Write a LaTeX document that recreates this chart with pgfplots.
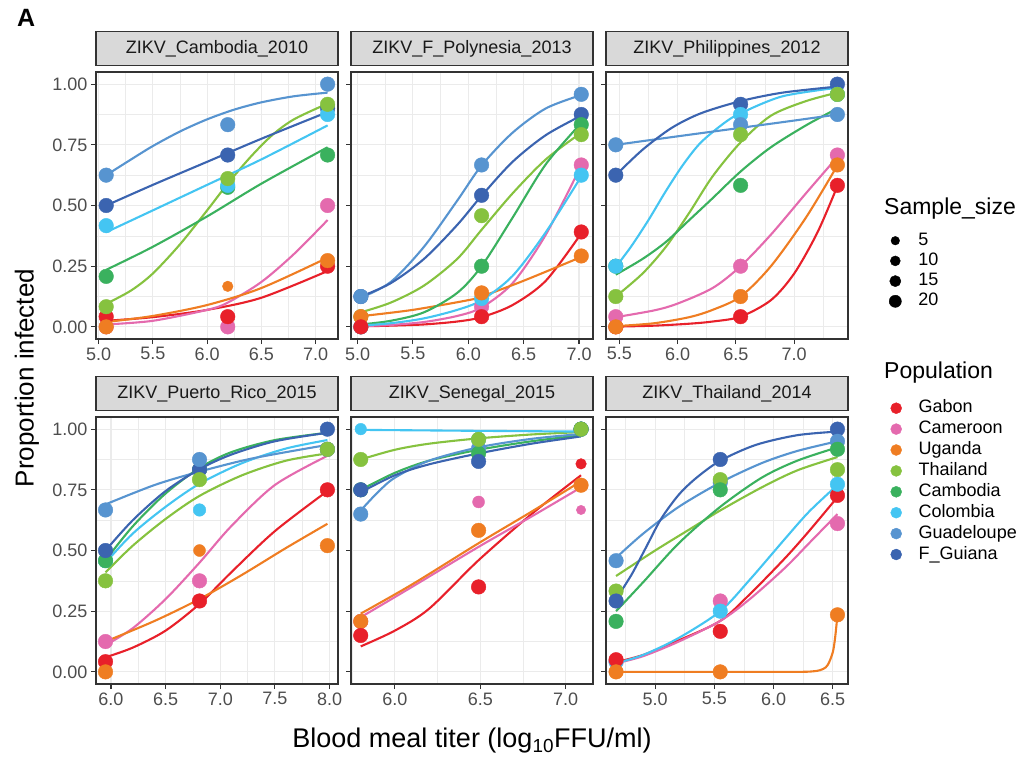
\documentclass[border=0pt]{standalone}
\usepackage{fontspec}
\setmainfont{Liberation Sans}
\usepackage{pgfplots}
\pgfplotsset{compat=1.18}
\definecolor{cGab}{HTML}{E8202A}
\definecolor{cCam}{HTML}{E46AAE}
\definecolor{cUga}{HTML}{EF7D22}
\definecolor{cTha}{HTML}{86C23F}
\definecolor{cCbd}{HTML}{3AB15E}
\definecolor{cCol}{HTML}{44C5F2}
\definecolor{cGua}{HTML}{5794D0}
\definecolor{cFG}{HTML}{3B64B0}
\definecolor{gridc}{HTML}{EBEBEB}
\definecolor{border}{HTML}{333333}
\definecolor{stripc}{HTML}{D9D9D9}
\definecolor{tickc}{HTML}{4D4D4D}
\pgfplotsset{
  crv/.style={no markers, smooth, line width=2.1pt, color=#1},
  ptsz/.style 2 args={only marks, mark=*, mark size=#2, color=#1, mark options={draw=#1, fill=#1, line width=0.4pt}},
  panel/.style={
    scale only axis, width=242pt, height=267pt, anchor=north west,
    ymin=-0.05, ymax=1.05,
    ytick={0,0.25,0.5,0.75,1}, minor ytick={0.125,0.375,0.625,0.875},
    yticklabels={},
    grid=both,
    major grid style={draw=gridc, line width=1.1pt},
    minor grid style={draw=gridc, line width=0.55pt},
    axis line style={draw=border, line width=1.1pt},
    tick style={draw=border, line width=1.1pt},
    major tick length=5pt, minor tick length=0pt,
    tick align=outside, xtick pos=left, ytick pos=left,
    tick label style={font=\fontsize{18}{18}\selectfont, text=tickc},
    title style={at={(0.5,1)}, anchor=south, yshift=0pt, draw=border, line width=1.1pt,
      fill=stripc, minimum width=242pt, minimum height=34pt, inner sep=0pt,
      font=\fontsize{18}{18}\selectfont, text=black!90},
  },
  legendbox/.style={anchor=north west, hide axis, scale only axis, width=5pt, height=5pt,
    xmin=0, xmax=1, ymin=0, ymax=1,
    legend style={at={(0,1)}, anchor=north west, draw=none, fill=none, inner sep=0pt,
      row sep=1.2pt, font=\fontsize{18}{18}\selectfont,
      nodes={inner sep=1pt, text height=13pt, text depth=4pt},
      /tikz/every odd column/.append style={column sep=16pt}},
    legend cell align=left},
}
\newcommand{\crv}[2]{\addplot[crv=#1] coordinates {#2};}
\newcommand{\pts}[3][7.3]{\addplot[ptsz={#2}{#1pt}] coordinates {#3};}
\begin{document}
\begin{tikzpicture}
\useasboundingbox (0,0) rectangle (1021pt,-763pt);
% ---------------- Panel 1
\begin{axis}[panel, at={(96pt,-72pt)}, xmin=4.976, xmax=7.206,
  xtick={5,5.5,6,6.5,7}, xticklabels={5.0,5.5,6.0,6.5,7.0}, minor xtick={5.25,5.75,6.25,6.75},
  yticklabels={0.00,0.25,0.50,0.75,1.00}, title={ZIKV\_Cambodia\_2010}]
\crv{cGab}{(5.07,0.025)(5.5,0.04)(6.0,0.07)(6.5,0.12)(7.11,0.23)}
\crv{cCam}{(5.07,0.01)(5.5,0.025)(6.0,0.07)(6.19,0.1)(6.5,0.185)(6.8,0.3)(7.11,0.44)}
\crv{cUga}{(5.07,0.02)(5.5,0.045)(6.0,0.09)(6.5,0.16)(7.11,0.285)}
\crv{cTha}{(5.07,0.095)(5.3,0.15)(5.5,0.22)(5.75,0.34)(6.0,0.48)(6.19,0.59)(6.4,0.7)(6.6,0.79)(6.8,0.855)(7.11,0.92)}
\crv{cCbd}{(5.07,0.235)(5.5,0.33)(6.0,0.455)(6.5,0.59)(7.11,0.74)}
\crv{cCol}{(5.07,0.39)(5.5,0.48)(6.0,0.585)(6.5,0.69)(7.11,0.83)}
\crv{cGua}{(5.07,0.625)(5.3,0.69)(5.5,0.745)(5.75,0.805)(6.0,0.855)(6.25,0.895)(6.5,0.925)(6.8,0.95)(7.11,0.965)}
\crv{cFG}{(5.07,0.5)(5.5,0.585)(6.0,0.68)(6.5,0.775)(7.11,0.885)}
\pts{cFG}{(7.11,0.9)}
\pts{cCam}{(5.07,0)(6.19,0)(7.11,0.5)}
\pts{cGab}{(5.07,0.042)(6.19,0.042)(7.11,0.25)}
\pts{cUga}{(5.07,0)(7.11,0.273)}
\pts[5.3]{cUga}{(6.19,0.167)}
\pts{cCbd}{(5.07,0.208)(6.19,0.575)(7.11,0.708)}
\pts{cCol}{(5.07,0.417)(6.19,0.583)(7.11,0.875)}
\pts{cTha}{(5.07,0.083)(6.19,0.611)(7.11,0.917)}
\pts{cGua}{(5.07,0.625)(6.19,0.833)(7.11,1)}
\pts{cFG}{(5.07,0.5)(6.19,0.708)}
\end{axis}
% ---------------- Panel 2
\begin{axis}[panel, at={(351pt,-72pt)}, xmin=4.941, xmax=7.126,
  xtick={5,5.5,6,6.5,7}, xticklabels={5.0,5.5,6.0,6.5,7.0}, minor xtick={5.25,5.75,6.25,6.75},
  title={ZIKV\_F\_Polynesia\_2013}]
\crv{cGab}{(5.03,0.002)(5.3,0.005)(5.6,0.01)(5.9,0.022)(6.12,0.04)(6.4,0.09)(6.7,0.19)(7.02,0.385)}
\crv{cCam}{(5.03,0.003)(5.3,0.008)(5.6,0.02)(5.9,0.045)(6.12,0.08)(6.4,0.18)(6.7,0.38)(7.02,0.665)}
\crv{cUga}{(5.03,0.044)(5.5,0.07)(6.0,0.11)(6.12,0.125)(6.5,0.19)(7.02,0.288)}
\crv{cTha}{(5.03,0.06)(5.3,0.1)(5.6,0.17)(5.9,0.28)(6.12,0.4)(6.4,0.55)(6.7,0.69)(7.02,0.8)}
\crv{cCbd}{(5.03,0.01)(5.3,0.025)(5.6,0.06)(5.9,0.14)(6.12,0.25)(6.4,0.45)(6.7,0.67)(7.02,0.84)}
\crv{cCol}{(5.03,0.005)(5.3,0.015)(5.6,0.035)(5.9,0.07)(6.12,0.11)(6.4,0.21)(6.7,0.39)(7.02,0.62)}
\crv{cGua}{(5.03,0.12)(5.3,0.185)(5.6,0.33)(5.9,0.52)(6.12,0.665)(6.4,0.8)(6.7,0.9)(7.02,0.955)}
\crv{cFG}{(5.03,0.125)(5.3,0.18)(5.6,0.28)(5.9,0.42)(6.12,0.54)(6.4,0.68)(6.7,0.79)(7.02,0.87)}
\pts{cFG}{(5.03,0.125)(6.12,0.542)(7.02,0.875)}
\pts{cCbd}{(5.03,0)(6.12,0.25)(7.02,0.833)}
\pts{cTha}{(5.03,0.042)(6.12,0.458)(7.02,0.792)}
\pts{cCam}{(5.03,0)(6.12,0.083)(7.02,0.667)}
\pts{cCol}{(5.03,0)(6.12,0.117)(7.02,0.625)}
\pts{cGua}{(5.03,0.125)(6.12,0.667)(7.02,0.958)}
\pts{cUga}{(5.03,0.042)(6.12,0.14)(7.02,0.292)}
\pts{cGab}{(5.03,0)(6.12,0.042)(7.02,0.391)}
\end{axis}
% ---------------- Panel 3
\begin{axis}[panel, at={(606pt,-72pt)}, xmin=5.386, xmax=7.461,
  xtick={5.5,6,6.5,7}, xticklabels={5.5,6.0,6.5,7.0}, minor xtick={5.75,6.25,6.75,7.25},
  title={ZIKV\_Philippines\_2012}]
\crv{cGab}{(5.47,0.001)(5.8,0.005)(6.1,0.013)(6.3,0.022)(6.54,0.042)(6.8,0.11)(7.0,0.22)(7.2,0.39)(7.37,0.58)}
\crv{cCam}{(5.47,0.04)(5.8,0.068)(6.0,0.096)(6.3,0.16)(6.54,0.25)(6.8,0.38)(7.1,0.55)(7.37,0.7)}
\crv{cUga}{(5.47,0.003)(5.8,0.015)(6.1,0.04)(6.3,0.07)(6.54,0.125)(6.8,0.25)(7.1,0.45)(7.37,0.665)}
\crv{cTha}{(5.47,0.125)(5.7,0.22)(5.9,0.33)(6.1,0.47)(6.3,0.62)(6.54,0.76)(6.8,0.87)(7.1,0.93)(7.37,0.965)}
\crv{cCbd}{(5.47,0.215)(5.7,0.28)(5.9,0.35)(6.1,0.44)(6.3,0.53)(6.54,0.64)(6.8,0.74)(7.1,0.83)(7.37,0.9)}
\crv{cCol}{(5.47,0.247)(5.6,0.33)(5.75,0.44)(5.9,0.56)(6.05,0.67)(6.2,0.76)(6.4,0.84)(6.54,0.88)(6.9,0.95)(7.37,0.985)}
\crv{cGua}{(5.47,0.75)(6.0,0.785)(6.54,0.82)(7.0,0.85)(7.37,0.875)}
\crv{cFG}{(5.47,0.625)(5.7,0.73)(5.95,0.82)(6.2,0.88)(6.54,0.93)(6.9,0.965)(7.37,0.99)}
\pts{cGab}{(5.47,0)(6.54,0.042)(7.37,0.583)}
\pts{cCbd}{(5.47,0.25)(6.54,0.583)(7.37,0.958)}
\pts{cFG}{(5.47,0.625)(6.54,0.917)(7.37,1)}
\pts{cCol}{(5.47,0.25)(6.54,0.875)(7.37,0.958)}
\pts{cGua}{(5.47,0.75)(6.54,0.833)(7.37,0.875)}
\pts{cTha}{(5.47,0.125)(6.54,0.792)(7.37,0.958)}
\pts{cCam}{(5.47,0.042)(6.54,0.25)(7.37,0.708)}
\pts{cUga}{(5.47,0)(6.54,0.125)(7.37,0.667)}
\end{axis}
% ---------------- Panel 4
\begin{axis}[panel, at={(96pt,-417pt)}, xmin=5.863, xmax=8.077,
  xtick={6,6.5,7,7.5,8}, xticklabels={6.0,6.5,7.0,7.5,8.0}, minor xtick={6.25,6.75,7.25,7.75},
  yticklabels={0.00,0.25,0.50,0.75,1.00}, title={ZIKV\_Puerto\_Rico\_2015}]
\crv{cGab}{(5.95,0.06)(6.2,0.1)(6.5,0.17)(6.81,0.28)(7.1,0.41)(7.5,0.58)(7.98,0.745)}
\crv{cCam}{(5.95,0.11)(6.2,0.18)(6.5,0.3)(6.81,0.45)(7.1,0.6)(7.5,0.77)(7.98,0.89)}
\crv{cUga}{(5.95,0.125)(6.4,0.21)(6.81,0.3)(7.2,0.4)(7.6,0.51)(7.98,0.61)}
\crv{cTha}{(5.95,0.41)(6.2,0.52)(6.5,0.63)(6.81,0.725)(7.2,0.81)(7.6,0.87)(7.98,0.9)}
\crv{cCbd}{(5.95,0.46)(6.2,0.6)(6.5,0.735)(6.81,0.84)(7.1,0.905)(7.5,0.955)(7.98,0.985)}
\crv{cCol}{(5.95,0.45)(6.2,0.57)(6.5,0.68)(6.81,0.775)(7.2,0.86)(7.6,0.92)(7.98,0.955)}
\crv{cGua}{(5.95,0.69)(6.4,0.77)(6.81,0.825)(7.3,0.88)(7.98,0.935)}
\crv{cFG}{(5.95,0.5)(6.2,0.625)(6.5,0.745)(6.81,0.835)(7.1,0.895)(7.5,0.95)(7.98,0.985)}
\pts{cCol}{(5.95,0.458)(7.98,0.917)}
\pts[6.3]{cCol}{(6.81,0.667)}
\pts{cCbd}{(5.95,0.458)(6.81,0.833)(7.98,0.917)}
\pts{cCam}{(5.95,0.125)(6.81,0.375)(7.98,0.917)}
\pts{cFG}{(5.95,0.5)(6.81,0.833)(7.98,1)}
\pts{cGua}{(5.95,0.667)(6.81,0.875)(7.98,0.917)}
\pts{cTha}{(5.95,0.375)(6.81,0.792)(7.98,0.917)}
\pts{cGab}{(5.95,0.042)(6.81,0.292)(7.98,0.75)}
\pts{cUga}{(5.95,0)(7.98,0.52)}
\pts[6]{cUga}{(6.81,0.5)}
\end{axis}
% ---------------- Panel 5
\begin{axis}[panel, at={(351pt,-417pt)}, xmin=5.743, xmax=7.16,
  xtick={6,6.5,7}, xticklabels={6.0,6.5,7.0}, minor xtick={5.75,6.25,6.75},
  title={ZIKV\_Senegal\_2015}]
\crv{cGab}{(5.8,0.105)(6.0,0.17)(6.2,0.26)(6.49,0.46)(6.8,0.65)(7.09,0.81)}
\crv{cCam}{(5.8,0.225)(6.1,0.35)(6.49,0.515)(6.8,0.64)(7.09,0.76)}
\crv{cUga}{(5.8,0.24)(6.1,0.36)(6.49,0.53)(6.8,0.66)(7.09,0.785)}
\crv{cTha}{(5.8,0.875)(6.0,0.915)(6.2,0.94)(6.49,0.962)(6.8,0.978)(7.09,0.988)}
\crv{cCbd}{(5.8,0.75)(6.0,0.82)(6.2,0.87)(6.49,0.915)(6.8,0.95)(7.09,0.975)}
\crv{cCol}{(5.8,0.997)(6.49,0.993)(7.09,0.99)}
\crv{cGua}{(5.8,0.665)(5.9,0.74)(6.0,0.8)(6.2,0.87)(6.49,0.925)(6.8,0.96)(7.09,0.98)}
\crv{cFG}{(5.8,0.74)(6.0,0.81)(6.2,0.855)(6.49,0.9)(6.8,0.94)(7.09,0.97)}
\pts{cCam}{(5.8,0.208)}
\pts[6]{cCam}{(6.49,0.7)}
\pts[4.7]{cCam}{(7.09,0.667)}
\pts{cCol}{(6.49,0.958)(7.09,1)}
\pts[5.8]{cCol}{(5.8,1)}
\pts{cGua}{(5.8,0.65)(6.49,0.92)(7.09,1)}
\pts{cCbd}{(5.8,0.75)(6.49,0.9)(7.09,1)}
\pts{cTha}{(5.8,0.875)(6.49,0.958)}
\pts{cFG}{(5.8,0.75)(6.49,0.867)(7.09,1)}
\pts{cUga}{(5.8,0.208)(6.49,0.583)(7.09,0.769)}
\pts{cGab}{(5.8,0.15)(6.49,0.35)}
\pts[5.3]{cGab}{(7.09,0.857)}
\pts{cTha}{(7.09,1)}
\end{axis}
% ---------------- Panel 6
\begin{axis}[panel, at={(606pt,-417pt)}, xmin=4.585, xmax=6.629,
  xtick={5,5.5,6,6.5}, xticklabels={5.0,5.5,6.0,6.5}, minor xtick={4.75,5.25,5.75,6.25},
  title={ZIKV\_Thailand\_2014}]
\crv{cGab}{(4.67,0.04)(4.9,0.07)(5.2,0.13)(5.55,0.21)(5.8,0.32)(6.1,0.47)(6.3,0.58)(6.54,0.72)}
\crv{cCam}{(4.67,0.035)(4.9,0.065)(5.2,0.125)(5.55,0.21)(5.8,0.3)(6.1,0.43)(6.3,0.53)(6.54,0.65)}
\crv{cUga}{(4.67,0)(5.55,0)(6.2,0)(6.35,0.003)(6.42,0.012)(6.46,0.03)(6.5,0.08)(6.52,0.14)(6.54,0.235)}
\crv{cTha}{(4.67,0.395)(5.0,0.5)(5.3,0.59)(5.55,0.665)(5.9,0.76)(6.2,0.83)(6.54,0.885)}
\crv{cCbd}{(4.67,0.25)(4.9,0.37)(5.2,0.53)(5.55,0.68)(5.9,0.8)(6.2,0.87)(6.54,0.925)}
\crv{cCol}{(4.67,0.036)(4.9,0.07)(5.2,0.14)(5.55,0.25)(5.8,0.38)(6.1,0.55)(6.3,0.66)(6.54,0.77)}
\crv{cGua}{(4.67,0.47)(4.9,0.57)(5.2,0.68)(5.55,0.78)(5.9,0.86)(6.2,0.91)(6.54,0.95)}
\crv{cFG}{(4.67,0.3)(4.8,0.4)(4.92,0.51)(5.05,0.63)(5.2,0.73)(5.35,0.8)(5.55,0.87)(5.85,0.935)(6.2,0.975)(6.54,0.99)}
\pts{cCam}{(4.67,0.042)}
\pts{cCol}{(4.67,0.042)}
\pts{cGab}{(4.67,0.05)(5.55,0.167)(6.54,0.727)}
\pts{cCam}{(5.55,0.292)(6.54,0.611)}
\pts{cUga}{(4.67,0)(5.55,0)(6.54,0.235)}
\pts{cFG}{(5.55,0.875)(6.54,1)}
\pts{cGua}{(4.67,0.458)(5.55,0.78)(6.54,0.95)}
\pts{cTha}{(4.67,0.333)(5.55,0.792)(6.54,0.833)}
\pts{cCbd}{(4.67,0.208)(5.55,0.75)(6.54,0.917)}
\pts{cCol}{(5.55,0.25)(6.54,0.773)}
\pts{cFG}{(4.67,0.292)}
\end{axis}
% ---------------- Legends
\node[anchor=west, inner sep=0pt, font=\fontsize{23}{23}\selectfont] at (884pt,-209pt) {Sample\_size};
\begin{axis}[legendbox, at={(889pt,-231pt)}]
\addlegendimage{ptsz={black}{4.3pt}}\addlegendentry{5}
\addlegendimage{ptsz={black}{5pt}}\addlegendentry{10}
\addlegendimage{ptsz={black}{5.6pt}}\addlegendentry{15}
\addlegendimage{ptsz={black}{6.1pt}}\addlegendentry{20}
\end{axis}
\node[anchor=west, inner sep=0pt, font=\fontsize{23}{23}\selectfont] at (884pt,-373pt) {Population};
\begin{axis}[legendbox, at={(890.5pt,-398.5pt)}, legend style={row sep=1.9pt}]
\addlegendimage{ptsz={cGab}{5.5pt}}\addlegendentry{Gabon}
\addlegendimage{ptsz={cCam}{5.5pt}}\addlegendentry{Cameroon}
\addlegendimage{ptsz={cUga}{5.5pt}}\addlegendentry{Uganda}
\addlegendimage{ptsz={cTha}{5.5pt}}\addlegendentry{Thailand}
\addlegendimage{ptsz={cCbd}{5.5pt}}\addlegendentry{Cambodia}
\addlegendimage{ptsz={cCol}{5.5pt}}\addlegendentry{Colombia}
\addlegendimage{ptsz={cGua}{5.5pt}}\addlegendentry{Guadeloupe}
\addlegendimage{ptsz={cFG}{5.5pt}}\addlegendentry{F\_Guiana}
\end{axis}
% ---------------- Titles
\node[anchor=north west, inner sep=0pt, font=\fontsize{25}{25}\selectfont\bfseries] at (17pt,-9pt) {A};
\node[rotate=90, font=\fontsize{26}{26}\selectfont] at (27pt,-378pt) {Proportion infected};
\node[font=\fontsize{27}{27}\selectfont] at (472pt,-741pt) {Blood meal titer (log\textsubscript{10}FFU/ml)};
\end{tikzpicture}
\end{document}
